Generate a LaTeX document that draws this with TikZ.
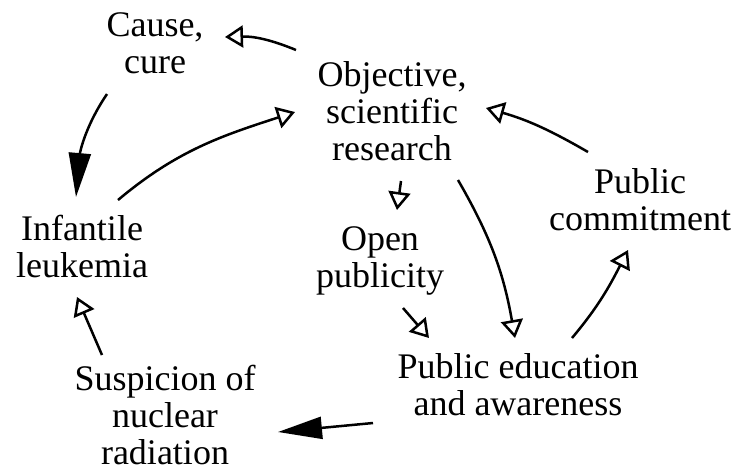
\documentclass[tikz,border=0pt]{standalone}
\usepackage{fontspec}
\setmainfont{Liberation Serif}
\usetikzlibrary{arrows.meta}

\begin{document}
\begin{tikzpicture}[x=1pt,y=1pt,
    lbl/.style={align=center,inner sep=0pt,anchor=base,
      font=\fontsize{36}{37}\selectfont},
    oarr/.style={line width=2.5pt,-{Triangle[open,length=18pt,width=22pt]}},
    farr/.style={line width=2.5pt,-{Triangle[length=44pt,width=22pt]}}]
  \useasboundingbox (0,0) rectangle (738,-472);
  % variables of the loop (base = last line)
  \node[lbl] (cause) at (155,-73) {Cause,\\cure};
  \node[lbl] (obj) at (392,-160) {Objective,\\scientific\\research};
  \node[lbl] (infant) at (82,-277) {Infantile\\leukemia};
  \node[lbl] (open) at (380,-287) {Open\\publicity};
  \node[lbl] (commit) at (640,-230) {Public\\commitment};
  \node[lbl] (pubed) at (518,-415) {Public education\\and awareness};
  \node[lbl] (susp) at (165,-464) {Suspicion of\\nuclear\\radiation};
  % links
  \draw[oarr] ([shift={(-96,110)}]obj.base) to[bend right=12] ([shift={(70,36)}]cause.base);
  \draw[farr] ([shift={(-48,-21)}]cause.base) to[out=236,in=85] ([shift={(-6,80)}]infant.base);
  \draw[oarr] ([shift={(36,77)}]infant.base) to[out=40,in=198] ([shift={(-97,48)}]obj.base);
  \draw[oarr] ([shift={(9,-21)}]obj.base) -- ([shift={(17,77)}]open.base);
  \draw[oarr] ([shift={(66,-20)}]obj.base) to[out=300,in=100] ([shift={(-3,77)}]pubed.base);
  \draw[oarr] ([shift={(23,-21)}]open.base) -- ([shift={(-89,77)}]pubed.base);
  \draw[oarr] ([shift={(54,77)}]pubed.base) to[out=50,in=243] ([shift={(-12,-20)}]commit.base);
  \draw[oarr] ([shift={(-52,78)}]commit.base) to[out=150,in=-16] ([shift={(94,52)}]obj.base);
  \draw[farr] ([shift={(-145,-8)}]pubed.base) -- ([shift={(113,32)}]susp.base);
  \draw[oarr] ([shift={(-63,109)}]susp.base) -- ([shift={(-5,-20)}]infant.base);
\end{tikzpicture}
\end{document}
